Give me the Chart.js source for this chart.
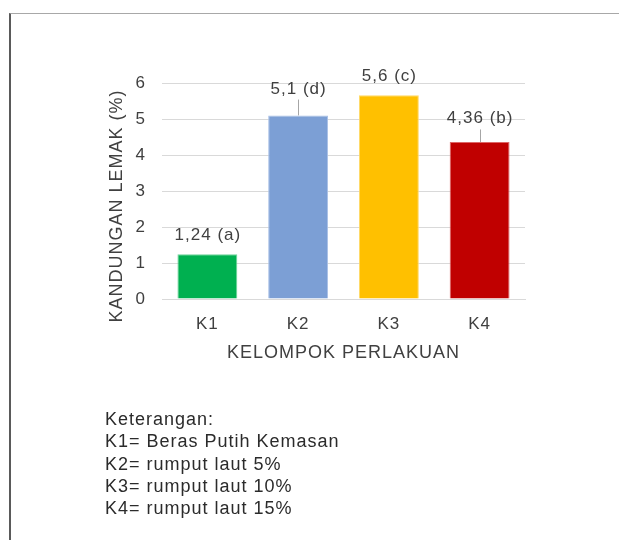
<!DOCTYPE html>
<html>
<head>
<meta charset="utf-8">
<script src="https://cdn.jsdelivr.net/npm/chart.js@4/dist/chart.umd.min.js"></script>
<style>
  html, body { margin: 0; padding: 0; background: #fff; }
  #wrap { position: relative; width: 619px; height: 540px; overflow: hidden; }
  #frame { position: absolute; left: 9px; top: 13px; right: -5px; bottom: -5px;
           border-left: 2px solid #5a5a5a; border-top: 1px solid #a8a8a8; }
  #c { position: absolute; left: 0; top: 0; }
  #legend { position: absolute; left: 105px; top: 408px; font-family: "Liberation Sans", Arial, sans-serif;
            font-size: 18px; line-height: 22.3px; letter-spacing: 1px; color: #2b2b2b; }
</style>
</head>
<body>
<div id="wrap">
  <div id="frame"></div>
  <canvas id="c" width="619" height="540"></canvas>
  <div id="legend">
    <div>Keterangan:</div>
    <div>K1= Beras Putih Kemasan</div>
    <div>K2= rumput laut 5%</div>
    <div>K3= rumput laut 10%</div>
    <div>K4= rumput laut 15%</div>
  </div>
</div>
<script>
const categories = ["K1", "K2", "K3", "K4"];
const values = [1.24, 5.1, 5.66, 4.36];
const errors = [0, 0.44, 0, 0.35];
const valueLabels = ["1,24 (a)", "5,1 (d)", "5,6 (c)", "4,36 (b)"];
const barColors = ["#00b050", "#7c9fd5", "#ffc000", "#c00000"];
const barEdges = ["#6fd39a", "#a9c0e6", "#ffd966", "#dd6666"];
const yTicks = [0, 1, 2, 3, 4, 5, 6];
const yTitle = "KANDUNGAN LEMAK (%)";
const xTitle = "KELOMPOK PERLAKUAN";

const FONT = '"Liberation Sans", Arial, sans-serif';
const TEXT = '#404040';

const spacingPlugin = {
  id: 'spacing',
  beforeDraw(chart) { chart.ctx.letterSpacing = '1px'; }
};

const extrasPlugin = {
  id: 'extras',
  afterDatasetsDraw(chart) {
    const ctx = chart.ctx;
    const xs = chart.scales.x, ys = chart.scales.y;
    ctx.save();
    ctx.letterSpacing = '1px';
    // error bars
    ctx.strokeStyle = '#a6a6a6';
    ctx.lineWidth = 1;
    values.forEach((v, i) => {
      if (!errors[i]) return;
      const x = Math.round(xs.getPixelForValue(i)) + 0.5;
      ctx.beginPath();
      ctx.moveTo(x, ys.getPixelForValue(v));
      ctx.lineTo(x, ys.getPixelForValue(v + errors[i]));
      ctx.stroke();
    });
    // value labels
    ctx.fillStyle = TEXT;
    ctx.font = '17px ' + FONT;
    ctx.textAlign = 'center';
    ctx.textBaseline = 'alphabetic';
    values.forEach((v, i) => {
      const x = xs.getPixelForValue(i);
      const yBar = ys.getPixelForValue(v) - 14;
      const yErr = ys.getPixelForValue(v + errors[i]) - 6;
      ctx.fillText(valueLabels[i], x + 0.5, Math.min(yBar, yErr));
    });
    // y axis title
    ctx.font = '18px ' + FONT;
    ctx.translate(117, 206);
    ctx.rotate(-Math.PI / 2);
    ctx.textBaseline = 'middle';
    ctx.fillText(yTitle, 0, 0);
    ctx.restore();
  }
};

new Chart(document.getElementById('c'), {
  type: 'bar',
  data: {
    labels: categories,
    datasets: [{
      data: values,
      backgroundColor: barColors,
      borderColor: barEdges,
      borderWidth: 1,
      barPercentage: 0.66,
      categoryPercentage: 1
    }]
  },
  options: {
    responsive: false,
    animation: false,
    devicePixelRatio: 1,
    layout: { padding: { left: 0, top: 83, right: 94, bottom: 176 } },
    plugins: { legend: { display: false }, tooltip: { enabled: false } },
    scales: {
      x: {
        grid: { display: false },
        border: { display: true, color: '#d9d9d9' },
        ticks: { color: TEXT, font: { family: FONT, size: 17 }, padding: 7 },
        title: { display: true, text: xTitle, color: TEXT, font: { family: FONT, size: 18 }, padding: 0 },
        afterFit(s) { s.height = 65; }
      },
      y: {
        min: 0, max: 6,
        afterBuildTicks(s) { s.ticks = yTicks.map(v => ({ value: v })); },
        grid: { color: '#d9d9d9', drawTicks: false },
        border: { display: false },
        ticks: { color: TEXT, font: { family: FONT, size: 17 }, padding: 16 },
        afterFit(s) { s.width = 162; }
      }
    }
  },
  plugins: [spacingPlugin, extrasPlugin]
});
</script>
</body>
</html>
